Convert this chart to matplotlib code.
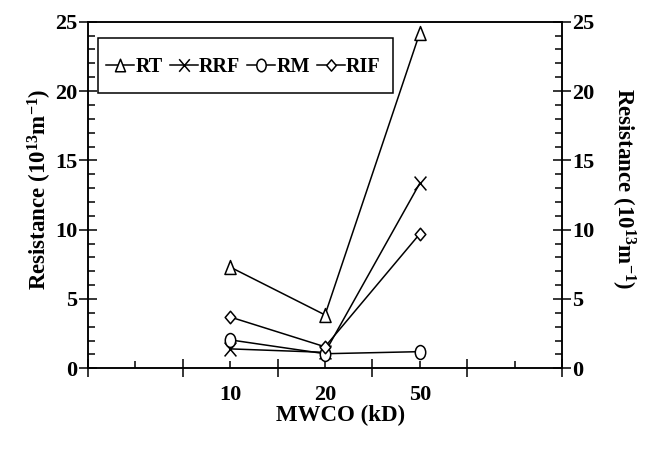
import numpy as np
import matplotlib
matplotlib.use('Agg')
import matplotlib.pyplot as plt
from matplotlib.patches import Rectangle
from matplotlib.transforms import Affine2D
from matplotlib.markers import MarkerStyle
from matplotlib.ticker import MultipleLocator, FixedLocator, FixedFormatter

# data
mwco = ['10', '20', '50']
RT = [7.3, 3.85, 24.2]
RRF = [1.4, 1.15, 13.35]
RM = [2.05, 1.05, 1.2]
RIF = [3.7, 1.55, 9.7]


def tallMarker(base, sx):
    # markers in the original are a bit taller than wide
    p = MarkerStyle(base).get_path().transformed(MarkerStyle(base).get_transform())
    return p.transformed(Affine2D().scale(sx, 1.0))


series = [('RT', RT, tallMarker('^', 0.8), 10),
          ('RRF', RRF, tallMarker('x', 0.85), 10),
          ('RM', RM, tallMarker('o', 0.75), 10),
          ('RIF', RIF, tallMarker('D', 0.85), 9)]

plt.rcParams['font.family'] = 'Liberation Serif'
plt.rcParams['font.weight'] = 'bold'
plt.rcParams['mathtext.fontset'] = 'custom'
plt.rcParams['mathtext.rm'] = 'Liberation Serif:bold'
plt.rcParams['mathtext.bf'] = 'Liberation Serif:bold'
plt.rcParams['mathtext.it'] = 'Liberation Serif:bold'
plt.rcParams['axes.linewidth'] = 1.1

fontSize = 16
fig = plt.figure(figsize=(6.51, 4.53), dpi=100)
ax = fig.add_axes([0.1352, 0.187, 0.7281, 0.765])

x = np.arange(len(mwco)) + 1.5
for name, vals, mk, ms in series:
    ax.plot(x, vals, color='black', lw=1.1, marker=mk, ms=ms, mfc='white',
            mec='black', mew=1.1, label=name)

ax.set_xlim(0, 5)
ax.set_ylim(0, 25)
ax.xaxis.set_major_locator(MultipleLocator(1))
ax.xaxis.set_major_formatter(FixedFormatter([]))
ax.xaxis.set_minor_locator(FixedLocator(np.arange(0.5, 5, 1)))
ax.xaxis.set_minor_formatter(FixedFormatter([''] + mwco + ['']))
ax.yaxis.set_major_locator(MultipleLocator(5))
ax.yaxis.set_minor_locator(MultipleLocator(1))

ax.tick_params(axis='x', which='major', direction='inout', length=13, width=1.1, top=False)
ax.tick_params(axis='x', which='minor', direction='in', length=5, width=1.1, top=False,
               labelsize=fontSize, pad=12)
ax.tick_params(axis='y', which='major', direction='inout', length=13, width=1.1,
               labelsize=fontSize, pad=1)
ax.tick_params(axis='y', which='minor', direction='in', length=5, width=1.1)

ax2 = ax.twinx()
ax2.set_ylim(0, 25)
ax2.yaxis.set_major_locator(MultipleLocator(5))
ax2.yaxis.set_minor_locator(MultipleLocator(1))
ax2.tick_params(axis='y', which='major', direction='inout', length=13, width=1.1,
                labelsize=fontSize, pad=1)
ax2.tick_params(axis='y', which='minor', direction='in', length=5, width=1.1)

ylab = 'Resistance (10$^{13}$m$^{-1}$)'
ax.set_ylabel(ylab, fontsize=16.5, fontweight='bold')
ax.yaxis.set_label_coords(-0.072, 0.517)
ax2.set_ylabel(ylab, fontsize=16.5, fontweight='bold', rotation=270, va='bottom')
ax2.yaxis.set_label_coords(1.099, 0.517)
ax.set_xlabel('MWCO (kD)', fontsize=16.5, fontweight='bold')
ax.xaxis.set_label_coords(0.532, -0.105)

# legend box drawn separately: the original has a tall, narrow-padded frame
ax.add_patch(Rectangle((0.021, 0.795), 0.622, 0.159, transform=ax.transAxes,
                       facecolor='white', edgecolor='black', lw=1.1, zorder=4))
leg = ax.legend(ncol=4, loc='center', bbox_to_anchor=(0.328, 0.869), borderaxespad=0,
                fontsize=14.5, handlelength=1.4, handletextpad=0.05, columnspacing=0.35,
                borderpad=0.2, markerscale=0.9, frameon=False)
leg.set_zorder(5)

plt.savefig('out.png', dpi=100)
